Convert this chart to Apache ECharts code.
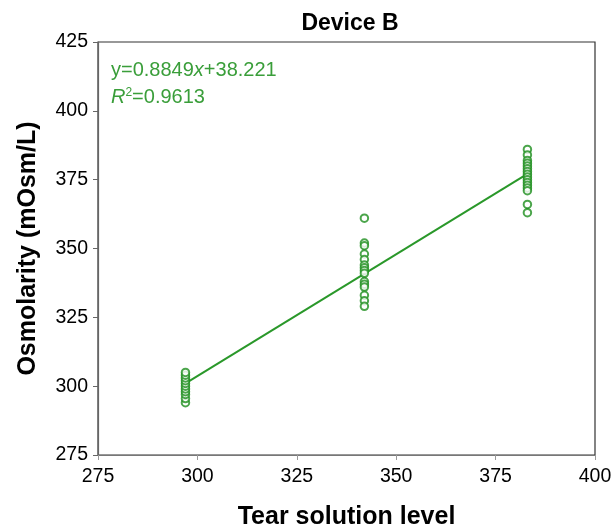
<!DOCTYPE html>
<html><head><meta charset="utf-8">
<script src="https://cdn.jsdelivr.net/npm/echarts@6/dist/echarts.min.js"></script>
<style>html,body{margin:0;padding:0;background:#fff}#c{width:611px;height:525px}</style>
</head><body><div id="c"></div>
<script>
const xLevels = [297, 342, 383];
const level1Values = [294, 295.5, 297, 298, 299, 300, 301, 302, 303, 304, 305];
const level2Values = [361, 352, 351, 348, 346, 344, 343, 342, 341, 338, 337, 336, 333, 331, 329];
const level3Values = [386, 384, 382, 381, 380, 379, 378, 377, 376, 375, 374, 373, 372, 371, 366, 363];
const fitLine = [[297, 301.0], [383, 377.1]];
const xTicks = [275, 300, 325, 350, 375, 400];
const yTicks = [275, 300, 325, 350, 375, 400, 425];

const pts = [];
[level1Values, level2Values, level3Values].forEach((arr, i) => arr.forEach(v => pts.push([xLevels[i], v])));

const green = '#2a982a';
const chart = echarts.init(document.getElementById('c'));
const font = 'Liberation Sans, Arial, sans-serif';
chart.setOption({
  animation: false,
  title: {text: 'Device B', left: 345, top: 7, textAlign: 'center',
    textStyle: {fontFamily: font, fontSize: 23, fontWeight: 'bold', color: '#000'}},
  grid: {left: 98, right: 16, top: 42, bottom: 70, containLabel: false, outerBoundsMode: 'none'},
  xAxis: {type: 'value', min: xTicks[0], max: xTicks[xTicks.length-1], interval: 25,
    name: 'Tear solution level', nameLocation: 'middle', nameGap: 50,
    nameTextStyle: {fontFamily: font, fontSize: 25, fontWeight: 'bold', color: '#000'},
    axisLine: {show: true, lineStyle: {color: '#777', width: 1.2}},
    axisTick: {show: true, length: 5, lineStyle: {color: '#999'}},
    axisLabel: {fontFamily: font, fontSize: 19.5, color: '#000', margin: 12},
    splitLine: {show: false}},
  yAxis: {type: 'value', min: yTicks[0], max: yTicks[yTicks.length-1], interval: 25,
    name: 'Osmolarity (mOsm/L)', nameLocation: 'middle', nameGap: 57,
    nameTextStyle: {fontFamily: font, fontSize: 25, fontWeight: 'bold', color: '#000'},
    axisLine: {show: true, lineStyle: {color: '#666', width: 1.2}},
    axisTick: {show: true, length: 5, lineStyle: {color: '#666'}},
    axisLabel: {fontFamily: font, fontSize: 19.5, color: '#000', margin: 10},
    splitLine: {show: false}},
  graphic: [
    {type: 'rect', shape: {x: 98, y: 42, width: 497, height: 413}, style: {fill: 'none', stroke: '#333', lineWidth: 1.2}, silent: true, z: 0},
    {type: 'text', left: 111, top: 60, style: {
      rich: {n: {fontFamily: font, fontSize: 20, fill: '#3a9e3a'}, i: {fontFamily: font, fontSize: 20, fontStyle: 'italic', fill: '#3a9e3a'}},
      text: '{n|y=0.8849}{i|x}{n|+38.221}'}},
    {type: 'text', left: 111, top: 87, style: {
      rich: {n: {fontFamily: font, fontSize: 20, fill: '#3a9e3a'}, i: {fontFamily: font, fontSize: 20, fontStyle: 'italic', fill: '#3a9e3a'},
             s: {fontFamily: font, fontSize: 12, fill: '#3a9e3a', padding: [0,0,9,0]}},
      text: '{i|R}{s|2}{n|=0.9613}'}}
  ],
  series: [
    {type: 'line', data: fitLine, symbol: 'none', lineStyle: {color: green, width: 2}, z: 2},
    {type: 'scatter', data: pts, symbol: 'circle', symbolSize: 7.5,
      itemStyle: {color: '#fff', borderColor: '#1e8e1e', borderWidth: 2}, z: 3}
  ]
});
</script></body></html>
